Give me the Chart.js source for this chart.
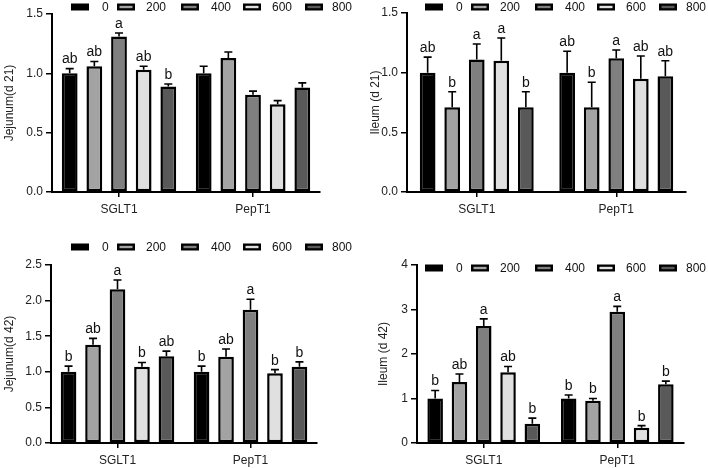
<!DOCTYPE html>
<html><head><meta charset="utf-8">
<script src="https://cdn.jsdelivr.net/npm/chart.js@4"></script>
<style>
html,body{margin:0;padding:0;background:#fff;}
#wrap{position:relative;width:708px;height:468px;overflow:hidden;}
.cell{position:absolute;width:354px;height:234px;}
canvas{display:block;}
</style></head><body>
<div id="wrap">
<div class="cell" style="left:0;top:0"><canvas id="c1" width="354" height="234"></canvas></div>
<div class="cell" style="left:354px;top:0"><canvas id="c2" width="354" height="234"></canvas></div>
<div class="cell" style="left:0;top:234px"><canvas id="c3" width="354" height="234"></canvas></div>
<div class="cell" style="left:354px;top:234px"><canvas id="c4" width="354" height="234"></canvas></div>
</div>
<script>
// ---- data ----
const groups = ['SGLT1', 'PepT1'];
const doses = ['0', '200', '400', '600', '800'];
const doseColors = ['#000000', '#a3a3a3', '#7f7f7f', '#e0e0e0', '#595959'];

// each row = one dose, values for [SGLT1, PepT1]
const jejunum21Means  = [[1.00, 1.00], [1.06, 1.13], [1.31, 0.82], [1.03, 0.74], [0.89, 0.88]];
const jejunum21Errors = [[0.04, 0.06], [0.04, 0.05], [0.03, 0.03], [0.03, 0.03], [0.02, 0.04]];
const jejunum21Letters = [['ab', ''], ['ab', ''], ['a', ''], ['ab', ''], ['b', '']];
const jejunum21Ticks = ['0.0', '0.5', '1.0', '1.5'];

const ileum21Means  = [[1.00, 1.00], [0.71, 0.71], [1.11, 1.12], [1.10, 0.95], [0.71, 0.97]];
const ileum21Errors = [[0.13, 0.18], [0.13, 0.21], [0.13, 0.07], [0.19, 0.19], [0.13, 0.13]];
const ileum21Letters = [['ab', 'ab'], ['b', 'b'], ['a', 'a'], ['a', 'ab'], ['b', 'ab']];
const ileum21Ticks = ['0.0', '0.5', '1.0', '1.5'];

const jejunum42Means  = [[1.00, 1.00], [1.38, 1.21], [2.16, 1.87], [1.07, 0.98], [1.22, 1.07]];
const jejunum42Errors = [[0.08, 0.08], [0.09, 0.11], [0.13, 0.15], [0.06, 0.05], [0.07, 0.07]];
const jejunum42Letters = [['b', 'b'], ['ab', 'ab'], ['a', 'a'], ['b', 'b'], ['ab', 'b']];
const jejunum42Ticks = ['0.0', '0.5', '1.0', '1.5', '2.0', '2.5'];

const ileum42Means  = [[1.00, 1.00], [1.37, 0.95], [2.63, 2.95], [1.59, 0.34], [0.43, 1.32]];
const ileum42Errors = [[0.18, 0.08], [0.18, 0.05], [0.16, 0.12], [0.13, 0.05], [0.13, 0.07]];
const ileum42Letters = [['b', 'b'], ['ab', 'b'], ['a', 'a'], ['ab', 'b'], ['b', 'b']];
const ileum42Ticks = ['0', '1', '2', '3', '4'];

// ---- plugins ----
const FONT = '"Liberation Sans", Arial, sans-serif';

const errBars = {
  id: 'errbars',
  afterDatasetsDraw(chart, args, opts) {
    const ctx = chart.ctx;
    const ys = chart.scales.y;
    ctx.save();
    chart.data.datasets.forEach((ds, d) => {
      const meta = chart.getDatasetMeta(d);
      meta.data.forEach((bar, i) => {
        const v = ds.data[i];
        const e = opts.errors[d][i];
        const yTop = ys.getPixelForValue(v + e);
        ctx.strokeStyle = '#000';
        ctx.lineWidth = 1.6;
        ctx.beginPath();
        ctx.moveTo(bar.x, bar.y);
        ctx.lineTo(bar.x, yTop);
        ctx.moveTo(bar.x - 4, yTop);
        ctx.lineTo(bar.x + 4, yTop);
        ctx.stroke();
        const t = opts.letters[d][i];
        if (t) {
          ctx.fillStyle = '#111';
          ctx.font = '14px ' + FONT;
          ctx.textAlign = 'center';
          ctx.textBaseline = 'bottom';
          ctx.fillText(t, bar.x, yTop - 2);
        }
      });
    });
    ctx.restore();
  }
};

const doseLegend = {
  id: 'doseLegend',
  afterDraw(chart, args, opts) {
    const ctx = chart.ctx;
    ctx.save();
    ctx.font = '12px ' + FONT;
    ctx.textBaseline = 'middle';
    ctx.textAlign = 'left';
    chart.data.datasets.forEach((ds, d) => {
      const bx = opts.boxX[d], tx = opts.textX[d], y = opts.y;
      ctx.fillStyle = '#000';
      ctx.fillRect(bx, y - 3.5, 18, 7);
      ctx.fillStyle = ds.backgroundColor;
      ctx.fillRect(bx + 2.5, y - 1.2, 13, 2.4);
      ctx.fillStyle = '#111';
      ctx.fillText(ds.label, tx, y + 0.5);
    });
    ctx.restore();
  }
};

function makeChart(id, means, errors, letters, ticks, yTitle, L) {
  const datasets = doses.map((lab, d) => ({
    label: lab,
    data: means[d],
    backgroundColor: doseColors[d],
    borderColor: '#000',
    borderWidth: 2.5,
    borderSkipped: false,
    categoryPercentage: L.catPct,
    barPercentage: 0.64
  }));
  const tickVals = ticks.map(Number);
  new Chart(document.getElementById(id), {
    type: 'bar',
    data: { labels: groups, datasets },
    options: {
      responsive: false,
      animation: false,
      layout: { padding: { top: L.top, right: 354 - L.right, bottom: 0, left: 0 } },
      plugins: {
        legend: { display: false },
        tooltip: { enabled: false },
        errbars: { errors, letters },
        doseLegend: { y: L.legendY, boxX: [71, 117, 181, 243, 305], textX: [102, 146, 211, 272, 332] }
      },
      scales: {
        x: {
          offset: true,
          afterFit: s => { s.height = 234 - L.bottom; },
          grid: { offset: false, drawOnChartArea: false, drawTicks: true, tickLength: 5, color: '#000', lineWidth: 1.5 },
          border: { display: true, color: '#000', width: 2 },
          ticks: { color: '#222', font: { family: FONT, size: 12 }, padding: 5 }
        },
        y: {
          min: tickVals[0],
          max: tickVals[tickVals.length - 1],
          afterFit: s => { s.width = L.axisX; },
          afterBuildTicks: s => { s.ticks = tickVals.map(v => ({ value: v })); },
          grid: { drawOnChartArea: false, drawTicks: true, tickLength: 6, color: '#000', lineWidth: 1.5 },
          border: { display: true, color: '#000', width: 2 },
          ticks: { color: '#222', font: { family: FONT, size: 12 }, padding: 3,
                   callback: (v, i) => ticks[i] },
          title: { display: true, text: yTitle, color: '#222', font: { family: FONT, size: 12 },
                   padding: { top: L.titleC - 7.2, bottom: 0 } }
        }
      }
    },
    plugins: [errBars, doseLegend]
  });
}

makeChart('c1', jejunum21Means, jejunum21Errors, jejunum21Letters, jejunum21Ticks, 'Jejunum(d 21)',
  { axisX: 52, top: 14, bottom: 192, right: 320, titleC: 10, catPct: 0.92, legendY: 7 });
makeChart('c2', ileum21Means, ileum21Errors, ileum21Letters, ileum21Ticks, 'Ileum (d 21)',
  { axisX: 53, top: 13, bottom: 192, right: 332, titleC: 22, catPct: 0.88, legendY: 7 });
makeChart('c3', jejunum42Means, jejunum42Errors, jejunum42Letters, jejunum42Ticks, 'Jejunum(d 42)',
  { axisX: 51, top: 31, bottom: 209, right: 317, titleC: 10, catPct: 0.92, legendY: 13 });
makeChart('c4', ileum42Means, ileum42Errors, ileum42Letters, ileum42Ticks, 'Ileum (d 42)',
  { axisX: 63, top: 31, bottom: 209, right: 330, titleC: 30, catPct: 0.91, legendY: 34 });
</script>
</body></html>
